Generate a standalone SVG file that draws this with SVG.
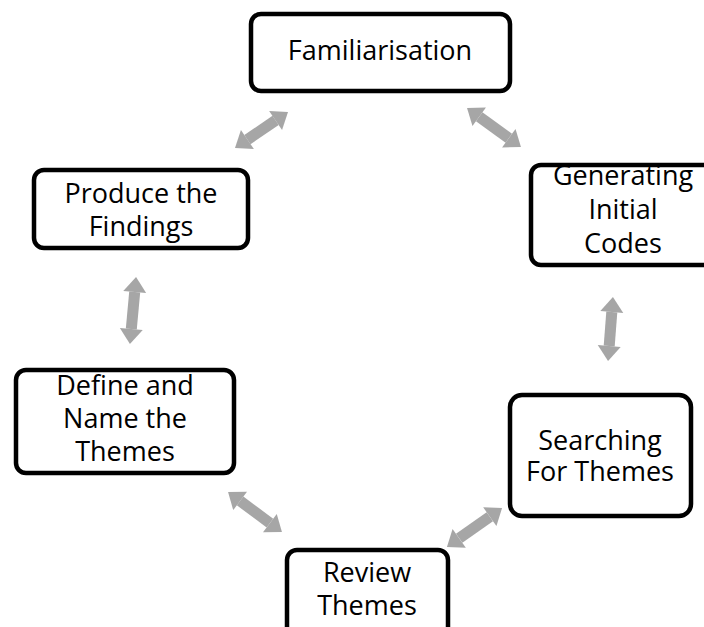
<svg xmlns="http://www.w3.org/2000/svg" width="704" height="627" viewBox="0 0 704 627">
  <style>
    .box { fill: #ffffff; stroke: #000000; stroke-width: 4.5; }
    .lbl { font-family: "Open Sans", Lato, "Liberation Sans", sans-serif; font-size: 27px; fill: #000000; text-anchor: middle; font-variant-ligatures: none; }
    .link { stroke: #a6a6a6; stroke-width: 11; fill: none; marker-start: url(#head); marker-end: url(#head); }
  </style>
  <defs>
    <marker id="head" markerUnits="userSpaceOnUse" markerWidth="18" markerHeight="26" viewBox="0 -13 18 26" refX="0" refY="0" orient="auto-start-reverse" overflow="visible">
      <path d="M0,-11.5 L15,0 L0,11.5 Z" fill="#a6a6a6"/>
    </marker>
  </defs>
  <rect width="704" height="627" fill="#ffffff"/>

  <!-- double-headed links between neighbouring stages -->
  <g id="connectors">
    <line class="link" x1="247.4" y1="139.6" x2="275.6" y2="120.4"/>
    <line class="link" x1="479.2" y1="116.8" x2="508.8" y2="138.2"/>
    <line class="link" x1="611.8" y1="312" x2="609.2" y2="346"/>
    <line class="link" x1="489.8" y1="516.7" x2="459.2" y2="538.3"/>
    <line class="link" x1="269.9" y1="523.1" x2="240.1" y2="500.9"/>
    <line class="link" x1="131.3" y1="329" x2="134.7" y2="292"/>
  </g>

  <g id="familiarisation">
    <rect class="box" x="251" y="14" width="259" height="77" rx="10"/>
    <text class="lbl" x="380" y="60">Familiarisation</text>
  </g>

  <g id="generating-initial-codes">
    <rect class="box" x="531" y="165" width="200" height="100" rx="10"/>
    <text class="lbl" x="623" y="185">Generating</text>
    <text class="lbl" x="623" y="219">Initial</text>
    <text class="lbl" x="623" y="253">Codes</text>
  </g>

  <g id="searching-for-themes">
    <rect class="box" x="510" y="395" width="181" height="121" rx="12"/>
    <text class="lbl" x="600" y="450">Searching</text>
    <text class="lbl" x="600" y="481">For Themes</text>
  </g>

  <g id="review-themes">
    <rect class="box" x="287" y="550" width="161" height="100" rx="10"/>
    <text class="lbl" x="367" y="582">Review</text>
    <text class="lbl" x="367" y="615">Themes</text>
  </g>

  <g id="define-and-name-themes">
    <rect class="box" x="16" y="370" width="218" height="103" rx="10"/>
    <text class="lbl" x="125" y="395">Define and</text>
    <text class="lbl" x="125" y="428">Name the</text>
    <text class="lbl" x="125" y="461">Themes</text>
  </g>

  <g id="produce-findings">
    <rect class="box" x="34" y="170" width="214" height="78" rx="10"/>
    <text class="lbl" x="141" y="203">Produce the</text>
    <text class="lbl" x="141" y="236">Findings</text>
  </g>
</svg>
